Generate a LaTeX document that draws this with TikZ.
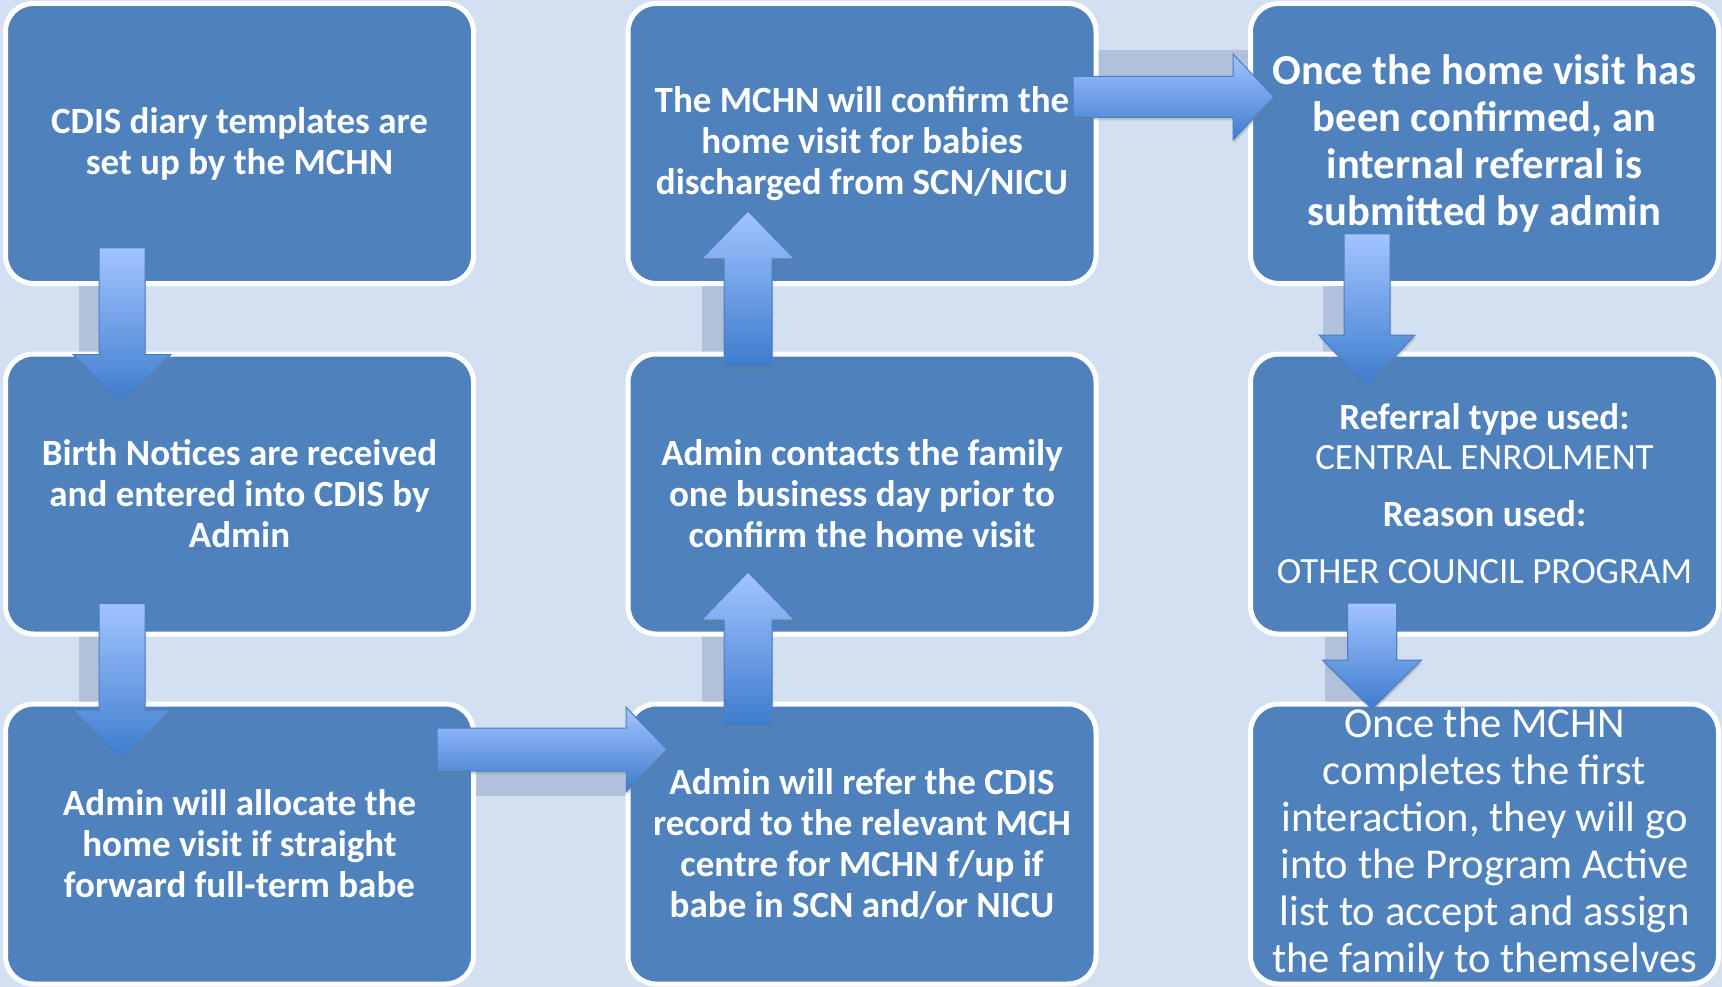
\documentclass[tikz,border=0pt]{standalone}
\usepackage{fontspec}
\setmainfont{Carlito}
\usetikzlibrary{calc,shadows}

\definecolor{bgblue}{HTML}{D3E0F1}
\definecolor{boxblue}{HTML}{4F81BD}
\definecolor{barblue}{HTML}{B1C1DB}
\definecolor{arrowtop}{HTML}{A2C4FF}
\definecolor{arrowbot}{HTML}{3D7CCD}
\definecolor{arrowline}{HTML}{4A7EC2}

% #1 tail, #2 tip, #3 half shaft, #4 half head, #5 head length
\newcommand\blockarrow[5]{%
  \coordinate (hb) at ($(#2)!#5pt!(#1)$);
  \draw[blockarrow] ($(#1)!#3pt!90:(#2)$) -- ($(hb)!#3pt!90:(#2)$)
    -- ($(hb)!#4pt!90:(#2)$) -- (#2) -- ($(hb)!#4pt!-90:(#2)$)
    -- ($(hb)!#3pt!-90:(#2)$) -- ($(#1)!#3pt!-90:(#2)$) -- cycle;
}

\begin{document}
\begin{tikzpicture}[x=1pt, y=-1pt,
    box/.style={rectangle, rounded corners=28pt, draw=white, line width=5pt,
      fill=boxblue, minimum width=468pt, minimum height=280pt, inner sep=0pt,
      text=white, align=center, font=\bfseries\fontsize{37}{41}\selectfont},
    bigbox/.style={box, font=\bfseries\fontsize{42.6}{47}\selectfont},
    plainbox/.style={box, font=\fontsize{42.6}{47}\selectfont},
    infobox/.style={box, font=\fontsize{37}{40}\selectfont},
    bar/.style={fill=barblue},
    blockarrow/.style={top color=arrowtop, bottom color=arrowbot,
      draw=arrowline, line width=1pt,
      drop shadow={shadow xshift=1pt, shadow yshift=-3pt, opacity=.3}}]

    \fill[bgblue] (0,0) rectangle (1722,987);

    \fill[bar] (79,280) rectangle (125,358);
    \fill[bar] (79,630) rectangle (125,708);
    \fill[bar] (470,753) rectangle (632,796);
    \fill[bar] (702,630) rectangle (748,708);
    \fill[bar] (702,280) rectangle (748,358);
    \fill[bar] (1092,50) rectangle (1255,91);
    \fill[bar] (1323,280) rectangle (1369,358);
    \fill[bar] (1325,630) rectangle (1371,708);

    \node[box] (b1) at (239.5,143.5) {CDIS diary templates are\\set up by the MCHN};
    \node[box] (b2) at (239.5,494) {Birth Notices are received\\and entered into CDIS by\\Admin};
    \node[box] (b3) at (239.5,844) {Admin will allocate the\\home visit if straight\\forward full-term babe};
    \node[box] (b4) at (862,844) {Admin will refer the CDIS\\record to the relevant MCH\\centre for MCHN f/up if\\babe in SCN and/or NICU};
    \node[box] (b5) at (862,494) {Admin contacts the family\\one business day prior to\\confirm the home visit};
    \node[box] (b6) at (862,143.5) {The MCHN will confirm the\\home visit for babies\\discharged from SCN/NICU};
    \node[bigbox] (b7) at (1484.5,143.5) {Once the home visit has\\been confirmed, an\\internal referral is\\submitted by admin};
    \node[infobox] (b8) at (1484.5,494) {\textbf{Referral type used:}\\CENTRAL ENROLMENT\\[17pt]\textbf{Reason used:}\\[17pt]OTHER COUNCIL PROGRAM};
    \node[plainbox] (b9) at (1484.5,844) {Once the MCHN\\completes the first\\interaction, they will go\\into the Program Active\\list to accept and assign\\the family to themselves};

    \coordinate (a1s) at ([shift={(119,-38)}]b1.south west);
    \coordinate (a1e) at ([shift={(119,52)}]b2.north west);
    \coordinate (a2s) at ([shift={(119,-33)}]b2.south west);
    \coordinate (a2e) at ([shift={(119,58.5)}]b3.north west);
    \coordinate (a3s) at ([shift={(-39,-94.5)}]b3.east);
    \coordinate (a3e) at ([shift={(41.5,-94.5)}]b4.west);
    \coordinate (a4s) at ([shift={(122.5,23.5)}]b4.north west);
    \coordinate (a4e) at ([shift={(122.5,-64.5)}]b5.south west);
    \coordinate (a5s) at ([shift={(122.5,14.5)}]b5.north west);
    \coordinate (a5e) at ([shift={(122.5,-75)}]b6.south west);
    \coordinate (a6s) at ([shift={(-25.5,-46.5)}]b6.east);
    \coordinate (a6e) at ([shift={(26,-46.5)}]b7.west);
    \coordinate (a7s) at ([shift={(119,-52)}]b7.south west);
    \coordinate (a7e) at ([shift={(119,35.5)}]b8.north west);
    \coordinate (a8s) at ([shift={(124,-33.5)}]b8.south west);
    \coordinate (a8e) at ([shift={(124,7.5)}]b9.north west);

    \blockarrow{a1s}{a1e}{23}{49}{49}
    \blockarrow{a2s}{a2e}{23}{49}{50}
    \blockarrow{a3s}{a3e}{21.5}{42.5}{41}
    \blockarrow{a4s}{a4e}{24}{46.5}{48}
    \blockarrow{a5s}{a5e}{24}{46.5}{48}
    \blockarrow{a6s}{a6e}{20.5}{43}{41}
    \blockarrow{a7s}{a7e}{23}{48}{52}
    \blockarrow{a8s}{a8e}{24.5}{49.5}{49}
\end{tikzpicture}
\end{document}
